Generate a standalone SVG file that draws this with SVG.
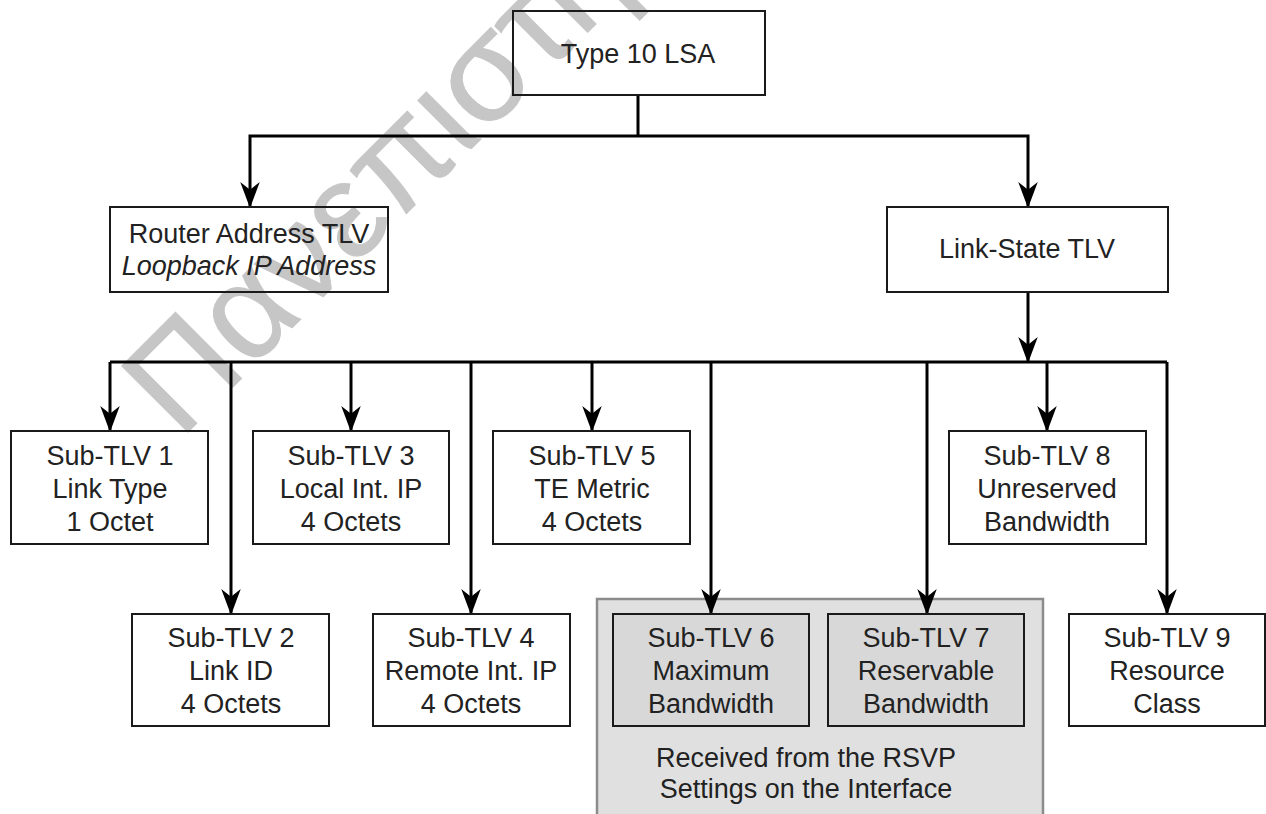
<svg xmlns="http://www.w3.org/2000/svg" width="1266" height="814" viewBox="0 0 1266 814">
<defs>
<style>
.box{fill:none;stroke:#1a1a1a;stroke-width:2}
.gbox{fill:#d8d8d8;stroke:#1a1a1a;stroke-width:2}
.cont{fill:#e0e0e0;stroke:#8c8c8c;stroke-width:2.5}
.t{font-family:"Liberation Sans",Arial,sans-serif;font-size:27px;fill:#222;text-anchor:middle}
.it{font-style:italic}
.ln{fill:none;stroke:#000;stroke-width:3}
.wm{font-family:"Liberation Sans",Arial,sans-serif;font-size:136px;fill:#c6c6c6;stroke:#c6c6c6;stroke-width:1}
</style>
<marker id="arr" markerUnits="userSpaceOnUse" markerWidth="26" markerHeight="20" viewBox="0 0 24 18" refX="23" refY="9" orient="auto">
<path d="M0,0 L24,9 L0,18 L7,9 Z" fill="#000"/>
</marker>
</defs>
<rect x="0" y="0" width="1266" height="814" fill="#fff"/>
<text class="wm" x="180" y="440" transform="rotate(-45 180 440)">Πανεπιστήμιο</text>
<g id="rsvp-group">
<rect class="cont" x="597" y="599" width="446" height="222"/>
<text class="t" x="806" y="767">Received from the RSVP</text>
<text class="t" x="806" y="798">Settings on the Interface</text>
</g>
<g id="connectors">
<path class="ln" d="M638,95 V136"/>
<path class="ln" d="M638,136 H250 V207" marker-end="url(#arr)"/>
<path class="ln" d="M638,136 H1028 V207" marker-end="url(#arr)"/>
<path class="ln" d="M1028,292 V362" marker-end="url(#arr)"/>
<path class="ln" d="M110,362 H1167"/>
<path class="ln" d="M110,362 V431" marker-end="url(#arr)"/>
<path class="ln" d="M231,362 V614" marker-end="url(#arr)"/>
<path class="ln" d="M351,362 V431" marker-end="url(#arr)"/>
<path class="ln" d="M471,362 V614" marker-end="url(#arr)"/>
<path class="ln" d="M592,362 V431" marker-end="url(#arr)"/>
<path class="ln" d="M711,362 V614" marker-end="url(#arr)"/>
<path class="ln" d="M927,362 V614" marker-end="url(#arr)"/>
<path class="ln" d="M1047,362 V431" marker-end="url(#arr)"/>
<path class="ln" d="M1167,362 V614" marker-end="url(#arr)"/>
</g>
<g id="type10">
<rect class="box" x="513" y="11" width="252" height="84"/>
<text class="t" x="638" y="63">Type 10 LSA</text>
</g>
<g id="router-address">
<rect class="box" x="110" y="207" width="278" height="85"/>
<text class="t" x="249" y="243">Router Address TLV</text>
<text class="t it" x="249" y="275">Loopback IP Address</text>
</g>
<g id="link-state">
<rect class="box" x="887" y="207" width="281" height="85"/>
<text class="t" x="1027" y="258">Link-State TLV</text>
</g>
<g id="sub1">
<rect class="box" x="11" y="431" width="197" height="113"/>
<text class="t" x="110" y="465">Sub-TLV 1</text>
<text class="t" x="110" y="498">Link Type</text>
<text class="t" x="110" y="531">1 Octet</text>
</g>
<g id="sub3">
<rect class="box" x="253" y="431" width="196" height="113"/>
<text class="t" x="351" y="465">Sub-TLV 3</text>
<text class="t" x="351" y="498">Local Int. IP</text>
<text class="t" x="351" y="531">4 Octets</text>
</g>
<g id="sub5">
<rect class="box" x="493" y="431" width="197" height="113"/>
<text class="t" x="592" y="465">Sub-TLV 5</text>
<text class="t" x="592" y="498">TE Metric</text>
<text class="t" x="592" y="531">4 Octets</text>
</g>
<g id="sub8">
<rect class="box" x="949" y="431" width="197" height="113"/>
<text class="t" x="1047" y="465">Sub-TLV 8</text>
<text class="t" x="1047" y="498">Unreserved</text>
<text class="t" x="1047" y="531">Bandwidth</text>
</g>
<g id="sub2">
<rect class="box" x="132" y="614" width="197" height="112"/>
<text class="t" x="231" y="647">Sub-TLV 2</text>
<text class="t" x="231" y="680">Link ID</text>
<text class="t" x="231" y="713">4 Octets</text>
</g>
<g id="sub4">
<rect class="box" x="373" y="614" width="197" height="112"/>
<text class="t" x="471" y="647">Sub-TLV 4</text>
<text class="t" x="471" y="680">Remote Int. IP</text>
<text class="t" x="471" y="713">4 Octets</text>
</g>
<g id="sub6">
<rect class="gbox" x="613" y="614" width="196" height="112"/>
<text class="t" x="711" y="647">Sub-TLV 6</text>
<text class="t" x="711" y="680">Maximum</text>
<text class="t" x="711" y="713">Bandwidth</text>
</g>
<g id="sub7">
<rect class="gbox" x="828" y="614" width="196" height="112"/>
<text class="t" x="926" y="647">Sub-TLV 7</text>
<text class="t" x="926" y="680">Reservable</text>
<text class="t" x="926" y="713">Bandwidth</text>
</g>
<g id="sub9">
<rect class="box" x="1069" y="614" width="196" height="112"/>
<text class="t" x="1167" y="647">Sub-TLV 9</text>
<text class="t" x="1167" y="680">Resource</text>
<text class="t" x="1167" y="713">Class</text>
</g>
</svg>
